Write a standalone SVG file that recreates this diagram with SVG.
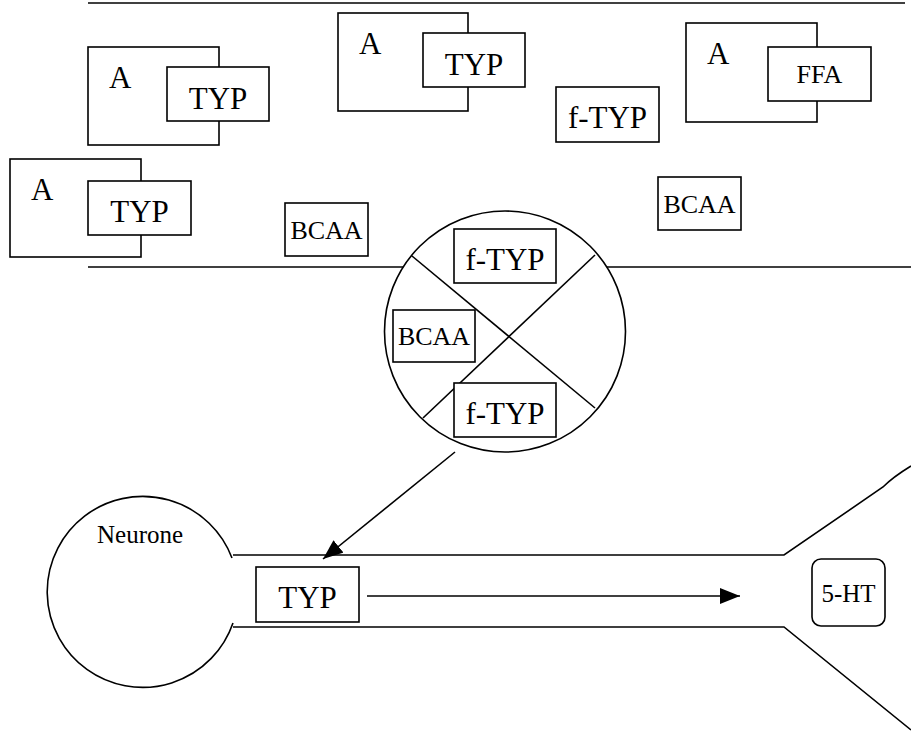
<svg xmlns="http://www.w3.org/2000/svg" width="911" height="733" viewBox="0 0 911 733" font-family="'Liberation Serif', 'Times New Roman', serif">
  <style>
    .ln { fill: none; stroke: #000; stroke-width: 1.6; }
    .bx { fill: #fff; stroke: #000; stroke-width: 1.6; }
    text { font-family: 'Liberation Serif', 'Times New Roman', serif; fill: #000; }
    .big { font-size: 31px; }
    .mid { font-size: 26px; }
    .c { text-anchor: middle; }
  </style>
  <defs>
    <marker id="head" viewBox="0 0 20 16" refX="20" refY="8" markerWidth="20" markerHeight="16" markerUnits="userSpaceOnUse" orient="auto">
      <path d="M0,0 L20,8 L0,16 Z" fill="#000"/>
    </marker>
  </defs>

  <!-- membrane lines -->
  <g id="membrane">
    <line class="ln" x1="88" y1="3" x2="905" y2="3"/>
    <line class="ln" x1="88" y1="267" x2="404" y2="267"/>
    <line class="ln" x1="606" y1="267" x2="911" y2="267"/>
  </g>

  <!-- albumin-bound tryptophan complexes -->
  <g id="complex1">
    <rect class="bx" x="88" y="47" width="131" height="98"/>
    <rect class="bx" x="167" y="67" width="102" height="54"/>
    <text class="big" x="109" y="88">A</text>
    <text class="big c" x="218" y="109">TYP</text>
  </g>
  <g id="complex2">
    <rect class="bx" x="10" y="159" width="131" height="98"/>
    <rect class="bx" x="88" y="181" width="103" height="54"/>
    <text class="big" x="31" y="200">A</text>
    <text class="big c" x="139.5" y="222">TYP</text>
  </g>
  <g id="complex3">
    <rect class="bx" x="338" y="13" width="130" height="98"/>
    <rect class="bx" x="423" y="33" width="102" height="54"/>
    <text class="big" x="359" y="54">A</text>
    <text class="big c" x="474" y="75">TYP</text>
  </g>
  <g id="complex4">
    <rect class="bx" x="686" y="23" width="131" height="99"/>
    <rect class="bx" x="768" y="47" width="103" height="54"/>
    <text class="big" x="707" y="64">A</text>
    <text class="mid c" x="819.5" y="83">FFA</text>
  </g>

  <!-- free molecules in plasma -->
  <g id="ftyp-plasma">
    <rect class="bx" x="556" y="87" width="103" height="55"/>
    <text class="big c" x="607.5" y="128">f-TYP</text>
  </g>
  <g id="bcaa1">
    <rect class="bx" x="285" y="203" width="83" height="53"/>
    <text class="mid c" x="326.5" y="239">BCAA</text>
  </g>
  <g id="bcaa2">
    <rect class="bx" x="658" y="177" width="83" height="53"/>
    <text class="mid c" x="699.5" y="213">BCAA</text>
  </g>

  <!-- blood-brain barrier transporter -->
  <g id="transporter">
    <circle class="bx" cx="505" cy="331.5" r="120.5"/>
    <line class="ln" x1="412" y1="256" x2="595" y2="408"/>
    <line class="ln" x1="595" y1="255" x2="423" y2="418"/>
    <rect class="bx" x="454" y="229" width="102" height="54"/>
    <text class="big c" x="505" y="270">f-TYP</text>
    <rect class="bx" x="393" y="310" width="82" height="52"/>
    <text class="mid c" x="434" y="345">BCAA</text>
    <rect class="bx" x="454" y="383" width="102" height="54"/>
    <text class="big c" x="505" y="424">f-TYP</text>
  </g>

  <!-- neurone with axon and terminal -->
  <g id="neurone">
    <path class="ln" d="M232,558 A95.5,95.5 0 1 0 233,623"/>
    <path class="ln" d="M233,555 L784,555 L883,487 Q893,477 911,466"/>
    <path class="ln" d="M233,627 L784,627 L911,730"/>
    <text x="97" y="543" style="font-size:25px">Neurone</text>
  </g>
  <g id="typ-axon">
    <rect class="bx" x="256" y="567" width="103" height="55"/>
    <text class="big c" x="307.5" y="608">TYP</text>
  </g>
  <g id="serotonin">
    <rect class="bx" x="812" y="559" width="73" height="67" rx="9"/>
    <text class="c" x="848.5" y="602" style="font-size:25px">5-HT</text>
  </g>

  <!-- connectors -->
  <g id="connectors">
    <line class="ln" x1="455" y1="452" x2="323" y2="559" marker-end="url(#head)"/>
    <line class="ln" x1="367" y1="596" x2="740" y2="596" marker-end="url(#head)"/>
  </g>
</svg>
